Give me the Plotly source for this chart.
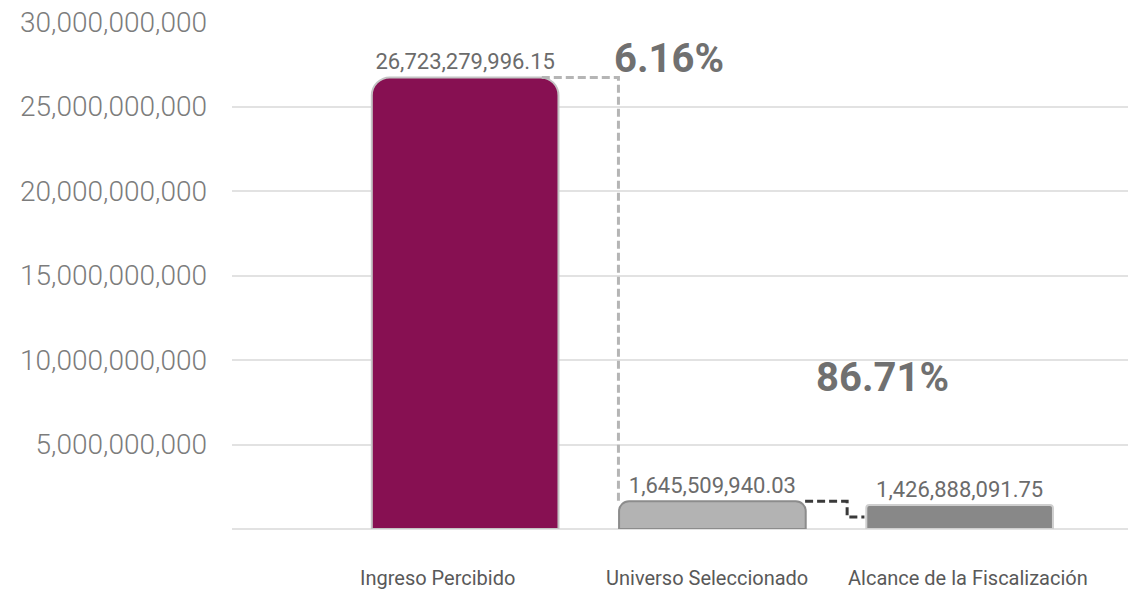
import plotly.graph_objects as go

# Montos (pesos)
categorias = ["Ingreso Percibido", "Universo Seleccionado", "Alcance de la Fiscalización"]
montos = [26723279996.15, 1645509940.03, 1426888091.75]
colores = ["#871052", "#b3b3b3", "#888888"]
bordes = ["#c4c4c4", "#8c8c8c", "#cfcfcf"]
radios = [18, 10, 3]

ticks_y = [5e9, 10e9, 15e9, 20e9, 25e9, 30e9]
ticks_y_texto = [f"{v:,.0f}" for v in ticks_y]

ingreso, universo, alcance = montos
pct_universo = f"{universo / ingreso * 100:.2f}%"
pct_alcance = f"{alcance / universo * 100:.2f}%"

FONT = "Roboto"
ANCHO = 0.755
posiciones = list(range(len(categorias)))
# desplazamiento horizontal de cada etiqueta de categoría
desplaz_etiqueta = [-0.11, -0.02, 0.035]

fig = go.Figure()

for i, val in enumerate(montos):
    fig.add_trace(go.Bar(
        x=[posiciones[i]], y=[val], width=ANCHO,
        marker=dict(color=colores[i], cornerradius=radios[i],
                    line=dict(color=bordes[i], width=2)),
        texttemplate="%{y:,.2f}", textposition="outside",
        textfont=dict(family=FONT, size=22, color="#6b6b6b"),
        cliponaxis=False, showlegend=False, hoverinfo="skip",
    ))

# Conectores punteados entre barras
fig.add_trace(go.Scatter(
    x=[0.31, 0.62, 0.62], y=[ingreso, ingreso, universo],
    mode="lines", line=dict(color="#b5b5b5", width=3, dash="8px,4px"),
    showlegend=False, hoverinfo="skip", cliponaxis=False,
))
fig.add_trace(go.Scatter(
    x=[1.375, 1.545, 1.545, 1.615], y=[universo, universo, alcance / 2, alcance / 2],
    mode="lines", line=dict(color="#3a3a3a", width=3, dash="8px,4px"),
    showlegend=False, hoverinfo="skip", cliponaxis=False,
))

fig.add_annotation(x=0.595, xref="x", y=0.928, yref="paper", text=pct_universo,
                   showarrow=False, xanchor="left", yanchor="middle",
                   font=dict(family=FONT, size=40, color="#707070", weight="bold"))
fig.add_annotation(x=1.69, xref="x", y=0.298, yref="paper", text=pct_alcance,
                   showarrow=False, xanchor="center", yanchor="middle",
                   font=dict(family=FONT, size=40, color="#707070", weight="bold"))

# Etiquetas de categoría, 49 px por debajo del eje
for i, cat in enumerate(categorias):
    fig.add_annotation(x=posiciones[i] + desplaz_etiqueta[i], xref="x",
                       y=0, yref="paper", yshift=-49, text=cat, showarrow=False,
                       xanchor="center", yanchor="middle",
                       font=dict(family=FONT, size=20, color="#595959"))

fig.update_layout(
    width=1129, height=589,
    margin=dict(l=232, r=1, t=22, b=60),
    paper_bgcolor="white", plot_bgcolor="white",
    barmode="overlay",
    xaxis=dict(
        range=[-0.943, 2.681], showgrid=False, showline=False, zeroline=False,
        showticklabels=False, ticks="",
    ),
    yaxis=dict(
        range=[0, 30e9], tickvals=ticks_y, ticktext=ticks_y_texto,
        showgrid=True, gridcolor="#e2e2e2", gridwidth=1.5,
        zeroline=True, zerolinecolor="#e2e2e2", zerolinewidth=1.5,
        showline=False, ticks="", ticklabelstandoff=24,
        tickfont=dict(family=FONT, size=28, color="#7c7c7c", weight=300),
    ),
)

fig.write_html("out.html")
